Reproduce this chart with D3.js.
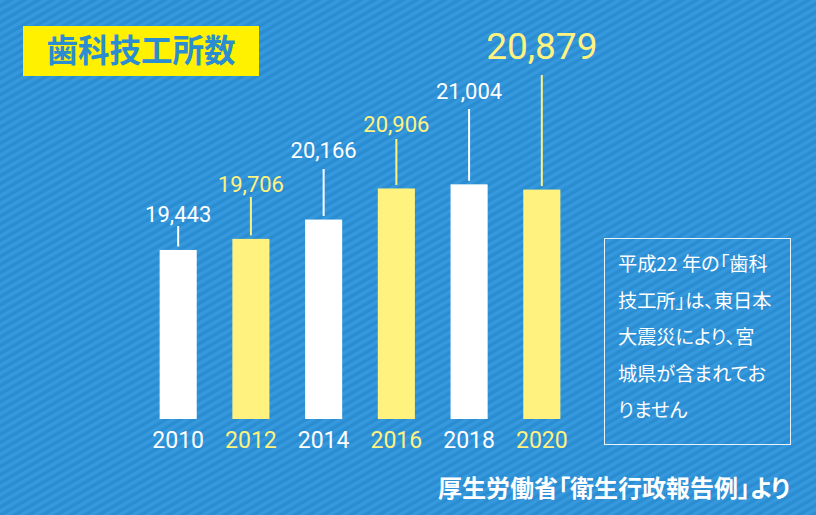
<!DOCTYPE html>
<html>
<head>
<meta charset="utf-8">
<script src="https://cdn.jsdelivr.net/npm/d3@7"></script>
<style>
  body { margin: 0; background: #2d90d5; }
  svg { display: block; }
  .jp { font-feature-settings: "palt"; }
</style>
</head>
<body>
<div id="chart"></div>
<script>
// data
const years = ["2010", "2012", "2014", "2016", "2018", "2020"];
const counts = [19443, 19706, 20166, 20906, 21004, 20879];
const highlight = [false, true, false, true, false, true];
const noteLines = ["平成22 年の「歯科", "技工所」は、東日本", "大震災により、宮", "城県が含まれてお", "りません"];
const title = "歯科技工所数";
const source = "厚生労働省「衛生行政報告例」より";

const W = 816, H = 515;
const baseY = 419;
const yellow = "#fff27e", white = "#ffffff";
const numFont = "Roboto, 'DejaVu Sans', sans-serif";
const jpFont = "'Noto Sans CJK JP', 'Noto Sans', sans-serif";

// stair-step positions for the value labels (layout only)
const labelY = [222, 192, 158, 132, 99, 59];
const lineGap = [4, 5, 11, 7, 10, 16];

const svg = d3.select("#chart")
  .append("svg")
    .attr("width", W)
    .attr("height", H);

// striped background
const defs = svg.append("defs");
const pat = defs.append("pattern")
  .attr("id", "stripes")
  .attr("patternUnits", "userSpaceOnUse")
  .attr("width", 7)
  .attr("height", 7)
  .attr("patternTransform", "rotate(-30)");
pat.append("rect").attr("width", 7).attr("height", 7).attr("fill", "#2a8cd1");
pat.append("rect").attr("width", 7).attr("height", 3.5).attr("fill", "#3699dd");

svg.append("rect")
  .attr("width", W).attr("height", H)
  .attr("fill", "url(#stripes)");

// scales
const x = d3.scaleBand()
  .domain(years)
  .range([124, 596])
  .padding(0.49);

const y = d3.scaleLinear()
  .domain([15420, 21000])
  .range([baseY, baseY - 234.5]);

// bars
svg.selectAll(".bar")
  .data(years)
  .join("rect")
    .attr("class", "bar")
    .attr("x", d => x(d))
    .attr("y", (d, i) => y(counts[i]))
    .attr("width", x.bandwidth())
    .attr("height", (d, i) => baseY - y(counts[i]))
    .attr("fill", (d, i) => highlight[i] ? yellow : white);

// leader lines
svg.selectAll(".lead")
  .data(years)
  .join("line")
    .attr("class", "lead")
    .attr("x1", d => x(d) + x.bandwidth() / 2)
    .attr("x2", d => x(d) + x.bandwidth() / 2)
    .attr("y1", (d, i) => labelY[i] + lineGap[i])
    .attr("y2", (d, i) => y(counts[i]) - 3.5)
    .attr("stroke", (d, i) => highlight[i] ? yellow : white)
    .attr("stroke-width", 2);

// value labels
svg.selectAll(".val")
  .data(years)
  .join("text")
    .attr("class", "val")
    .attr("x", d => x(d) + x.bandwidth() / 2)
    .attr("y", (d, i) => labelY[i])
    .attr("text-anchor", "middle")
    .attr("font-family", numFont)
    .attr("font-size", (d, i) => i === years.length - 1 ? 37 : 22)
    .attr("fill", (d, i) => highlight[i] ? yellow : white)
    .text((d, i) => d3.format(",")(counts[i]));

// year axis labels
svg.selectAll(".year")
  .data(years)
  .join("text")
    .attr("class", "year")
    .attr("x", d => x(d) + x.bandwidth() / 2)
    .attr("y", 448)
    .attr("text-anchor", "middle")
    .attr("font-family", numFont)
    .attr("font-size", 23)
    .attr("fill", (d, i) => highlight[i] ? yellow : white)
    .text(d => d);

// title box
svg.append("rect")
  .attr("x", 23).attr("y", 26)
  .attr("width", 236).attr("height", 50)
  .attr("fill", "#fff100");
svg.append("text")
  .attr("x", 141).attr("y", 62)
  .attr("text-anchor", "middle")
  .attr("font-family", jpFont)
  .attr("font-size", 31.5)
  .attr("font-weight", 700)
  .attr("fill", "#2a8cd1")
  .text(title);

// note box
svg.append("rect")
  .attr("x", 604.5).attr("y", 238.5)
  .attr("width", 186).attr("height", 206)
  .attr("fill", "none")
  .attr("stroke", "#e8f2fa")
  .attr("stroke-width", 1);
svg.selectAll(".note")
  .data(noteLines)
  .join("text")
    .attr("class", "note jp")
    .attr("x", 618)
    .attr("y", (d, i) => 271 + i * 36.5)
    .attr("font-family", jpFont)
    .attr("font-size", 19.2)
    .attr("fill", white)
    .text(d => d);

// source
svg.append("text")
  .attr("class", "jp")
  .attr("x", 790).attr("y", 497)
  .attr("text-anchor", "end")
  .attr("font-family", jpFont)
  .attr("font-size", 24)
  .attr("font-weight", 700)
  .attr("fill", white)
  .text(source);
</script>
</body>
</html>
